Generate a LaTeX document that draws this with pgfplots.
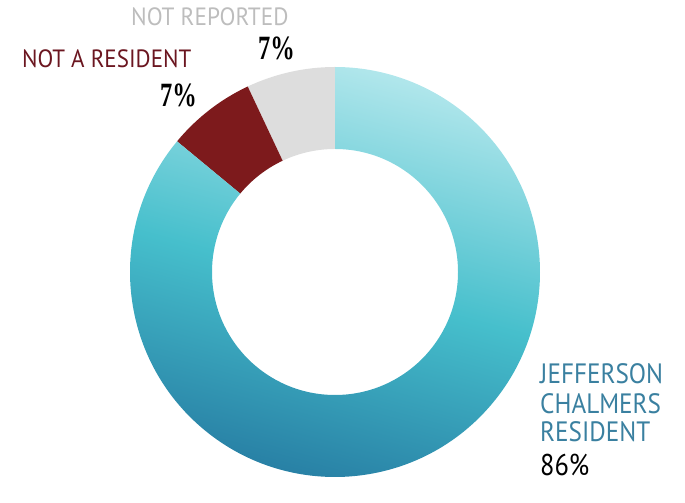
\documentclass[border=0pt]{standalone}
\usepackage{pgfplots}
\pgfplotsset{compat=1.18}
\usepackage{fontspec}
\setmainfont{PT Sans}
\newfontfamily\numserif{Liberation Serif}
\definecolor{tealA}{HTML}{B2E7EC}
\definecolor{tealB}{HTML}{46BFCC}
\definecolor{tealC}{HTML}{2478A0}
\definecolor{redseg}{HTML}{7D1A1C}
\definecolor{grayseg}{HTML}{DDDDDD}
\definecolor{graytxt}{HTML}{BDBDBD}
\definecolor{redtxt}{HTML}{6B1620}
\definecolor{tealtxt}{HTML}{3A80A0}
% values (percent)
\def\vRes{86}
\def\vNot{7}
\def\vNR{7}
\begin{document}
\begin{tikzpicture}
\begin{axis}[scale only axis, width=685pt, height=478pt,
  xmin=0, xmax=685, ymin=0, ymax=478, hide axis, clip=false]
\path (axis cs:0,0) rectangle (axis cs:685,478);
\pgfmathsetmacro{\aA}{90}
\pgfmathsetmacro{\aB}{90+3.6*\vNR}
\pgfmathsetmacro{\aC}{\aB+3.6*\vNot}
\pgfmathsetmacro{\aD}{\aC+3.6*\vRes}
\def\cx{335}\def\cy{206}\def\ro{205}\def\ri{123}
% not reported
\fill[grayseg] (axis cs:{\cx+\ro*cos(\aA)},{\cy+\ro*sin(\aA)}) arc[start angle=\aA, end angle=\aB, radius=\ro]
  -- (axis cs:{\cx+\ri*cos(\aB)},{\cy+\ri*sin(\aB)}) arc[start angle=\aB, end angle=\aA, radius=\ri] -- cycle;
% not a resident
\fill[redseg] (axis cs:{\cx+\ro*cos(\aB)},{\cy+\ro*sin(\aB)}) arc[start angle=\aB, end angle=\aC, radius=\ro]
  -- (axis cs:{\cx+\ri*cos(\aC)},{\cy+\ri*sin(\aC)}) arc[start angle=\aC, end angle=\aB, radius=\ri] -- cycle;
% resident
\shade[top color=tealA, bottom color=tealC, middle color=tealB, shading angle=-15]
  (axis cs:{\cx+\ro*cos(\aC)},{\cy+\ro*sin(\aC)}) arc[start angle=\aC, end angle=\aD, radius=\ro]
  -- (axis cs:{\cx+\ri*cos(\aD)},{\cy+\ri*sin(\aD)}) arc[start angle=\aD, end angle=\aC, radius=\ri] -- cycle;
% labels
\node[anchor=base west, inner sep=0pt, text=graytxt] at (axis cs:131,452) {\scalebox{0.93}[1]{\fontsize{25}{30}\selectfont NOT REPORTED}};
\node[anchor=base west, inner sep=0pt] at (axis cs:258,418) {\scalebox{0.72}[1]{\numserif\bfseries\fontsize{34}{36}\selectfont \vNR\%}};
\node[anchor=base west, inner sep=0pt, text=redtxt] at (axis cs:22,410) {\scalebox{0.92}[1]{\fontsize{25}{30}\selectfont NOT A RESIDENT}};
\node[anchor=base west, inner sep=0pt] at (axis cs:160,371) {\scalebox{0.72}[1]{\numserif\bfseries\fontsize{34}{36}\selectfont \vNot\%}};
\node[anchor=base west, inner sep=0pt, text=tealtxt] at (axis cs:540,94) {\scalebox{0.9}[1]{\fontsize{28}{30}\selectfont JEFFERSON}};
\node[anchor=base west, inner sep=0pt, text=tealtxt] at (axis cs:540,64) {\scalebox{0.9}[1]{\fontsize{28}{30}\selectfont CHALMERS}};
\node[anchor=base west, inner sep=0pt, text=tealtxt] at (axis cs:540,36) {\scalebox{0.9}[1]{\fontsize{28}{30}\selectfont RESIDENT}};
\node[anchor=base west, inner sep=0pt] at (axis cs:540,2) {\scalebox{0.88}[1]{\fontsize{30}{32}\selectfont \vRes\%}};
\end{axis}
\end{tikzpicture}
\end{document}
